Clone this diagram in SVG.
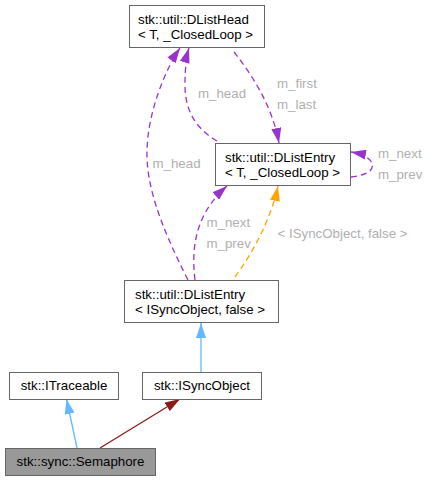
<svg xmlns="http://www.w3.org/2000/svg" width="431" height="480" viewBox="0 0 431 480">
<style>
.box{fill:#ffffff;stroke:#666666;stroke-width:1}
.cur{fill:#999999;stroke:#666666;stroke-width:1}
.t{font-family:"Liberation Sans",Arial,sans-serif;font-size:13.3px;fill:#000000}
.c{text-anchor:middle}
.lbl{font-family:"Liberation Sans",Arial,sans-serif;font-size:13.3px;fill:#b0b0b0}
.e{fill:none;stroke-width:1.3}
.d{stroke-dasharray:6,4}
.pu{stroke:#9a32cd}
.or{stroke:#ffa500}
.bl{stroke:#63b8ff}
.rd{stroke:#8b1a1a}
</style>
<defs>
<marker id="aPu" viewBox="0 0 15 10" refX="15" refY="5" markerWidth="15" markerHeight="10" markerUnits="userSpaceOnUse" orient="auto"><path d="M0,0 L15,5 L0,10 z" fill="#9a32cd"/></marker>
<marker id="aOr" viewBox="0 0 15 10" refX="15" refY="5" markerWidth="15" markerHeight="10" markerUnits="userSpaceOnUse" orient="auto"><path d="M0,0 L15,5 L0,10 z" fill="#ffa500"/></marker>
<marker id="aBl" viewBox="0 0 15 10" refX="15" refY="5" markerWidth="15" markerHeight="10" markerUnits="userSpaceOnUse" orient="auto"><path d="M0,0 L15,5 L0,10 z" fill="#63b8ff"/></marker>
<marker id="aRd" viewBox="0 0 15 10" refX="15" refY="5" markerWidth="15" markerHeight="10" markerUnits="userSpaceOnUse" orient="auto"><path d="M0,0 L15,5 L0,10 z" fill="#8b1a1a"/></marker>
</defs>
<g id="connectors">
<path class="e d pu" d="M188,280 C160,225 146,185 147,150 C148,112 165,70 180,48" marker-end="url(#aPu)"/>
<path class="e d pu" d="M217,141 C195,128 185,110 185,85 C185,70 186,58 189,48" marker-end="url(#aPu)"/>
<path class="e d pu" d="M234,52 C252,75 272,105 279,143" marker-end="url(#aPu)"/>
<path class="e d pu" d="M351,177 C362,176 375,172 372,163 C370,158 362,154 351,152" marker-end="url(#aPu)"/>
<path class="e d pu" d="M195,280 C190,240 200,210 227,186" marker-end="url(#aPu)"/>
<path class="e d or" d="M235,277 C255,250 272,215 278,186" marker-end="url(#aOr)"/>
<path class="e bl" d="M201,372 L201,323" marker-end="url(#aBl)"/>
<path class="e bl" d="M77,448 L66.5,399" marker-end="url(#aBl)"/>
<path class="e rd" d="M100,448 L180,399" marker-end="url(#aRd)"/>
<text class="lbl" x="152.5" y="168">m_head</text>
<text class="lbl" x="198" y="98">m_head</text>
<text class="lbl" x="277" y="88">m_first</text>
<text class="lbl" x="277" y="109">m_last</text>
<text class="lbl" x="378" y="158">m_next</text>
<text class="lbl" x="378" y="179">m_prev</text>
<text class="lbl" x="206.5" y="227">m_next</text>
<text class="lbl" x="206.5" y="248">m_prev</text>
<text class="lbl" x="277.5" y="238">&lt; ISyncObject, false &gt;</text>
</g>
<g id="DListHead">
<rect class="box" x="129.5" y="5.5" width="135" height="42"/>
<text class="t" x="138" y="24">stk::util::DListHead</text>
<text class="t" x="138" y="39">&lt; T, _ClosedLoop &gt;</text>
</g>
<g id="DListEntryT">
<rect class="box" x="215.5" y="143.5" width="135" height="42"/>
<text class="t" x="225" y="162">stk::util::DListEntry</text>
<text class="t" x="225" y="177">&lt; T, _ClosedLoop &gt;</text>
</g>
<g id="DListEntryISync">
<rect class="box" x="124.5" y="280.5" width="154" height="42"/>
<text class="t" x="135" y="299">stk::util::DListEntry</text>
<text class="t" x="135" y="314">&lt; ISyncObject, false &gt;</text>
</g>
<g id="ITraceable">
<rect class="box" x="9.5" y="372.5" width="109" height="27"/>
<text class="t c" x="64" y="390">stk::ITraceable</text>
</g>
<g id="ISyncObject">
<rect class="box" x="142.5" y="372.5" width="119" height="27"/>
<text class="t c" x="202" y="390">stk::ISyncObject</text>
</g>
<g id="Semaphore">
<rect class="cur" x="5.5" y="448.5" width="150" height="27"/>
<text class="t c" x="80.5" y="466">stk::sync::Semaphore</text>
</g>
</svg>
